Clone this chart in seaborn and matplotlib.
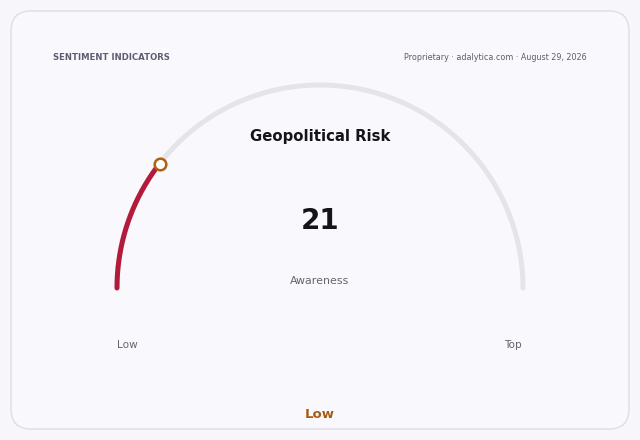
import numpy as np
import seaborn as sns
from matplotlib import pyplot as plt
from matplotlib.patches import FancyBboxPatch

# gauge data
title = 'Geopolitical Risk'
value = 21
value_min, value_max = 0, 100
metric_label = 'Awareness'
range_labels = ['Low', 'Top']
status_label = 'Low'
header_left = 'SENTIMENT INDICATORS'
header_right = 'Proprietary · adalytica.com · August 29, 2026'

sns.set_theme(style='white')
plt.rcParams['font.family'] = ['DejaVu Sans']

fig = plt.figure(figsize=(6.4, 4.4), dpi=100)
fig.patch.set_facecolor('#f7f7fb')
ax = fig.add_axes([0, 0, 1, 1])
ax.set_xlim(0, 640)
ax.set_ylim(440, 0)
ax.axis('off')
ax.set_facecolor('#f7f7fb')

card = FancyBboxPatch((11, 11), 618, 418, boxstyle='round,pad=0,rounding_size=20',
                      facecolor='#f9f9fd', edgecolor='#dcdde6', linewidth=1.0)
ax.add_patch(card)

cx, cy, r = 320, 288, 203


def arc_points(frac_from, frac_to, n=200):
    ang = np.pi * (1 - np.linspace(frac_from, frac_to, n))
    return cx + r * np.cos(ang), cy - r * np.sin(ang)


frac = (value - value_min) / (value_max - value_min)

tx, ty = arc_points(0, 1)
sns.lineplot(x=tx, y=ty, sort=False, estimator=None, ax=ax, color='#e4e4ea',
             linewidth=3.6, solid_capstyle='round')
px, py = arc_points(0, frac)
sns.lineplot(x=px, y=py, sort=False, estimator=None, ax=ax, color='#b31b3b',
             linewidth=3.6, solid_capstyle='round')
sns.scatterplot(x=[px[-1]], y=[py[-1]], ax=ax, s=70, color='white',
                edgecolor='#b3600c', linewidth=1.8, zorder=5)

ax.text(53, 57, header_left, fontsize=6.1, fontweight='bold', color='#5c5d70',
        ha='left', va='center')
ax.text(587, 57, header_right, fontsize=5.8, color='#5c5d70', ha='right', va='center')

ax.text(cx, 137, title, fontsize=10.7, fontweight='bold', color='#151518',
        ha='center', va='center')
ax.text(cx, 221, str(value), fontsize=20, fontweight='bold', color='#151518',
        ha='center', va='center')
ax.text(cx, 281, metric_label, fontsize=7.9, color='#65656f', ha='center', va='center')

ax.text(127, 345, range_labels[0], fontsize=7.6, color='#65656f', ha='center', va='center')
ax.text(513, 345, range_labels[1], fontsize=7.6, color='#65656f', ha='center', va='center')

ax.text(cx, 414, status_label, fontsize=9.5, fontweight='bold', color='#a85a12',
        ha='center', va='center')

fig.savefig('out.png', dpi=100, facecolor=fig.get_facecolor())
